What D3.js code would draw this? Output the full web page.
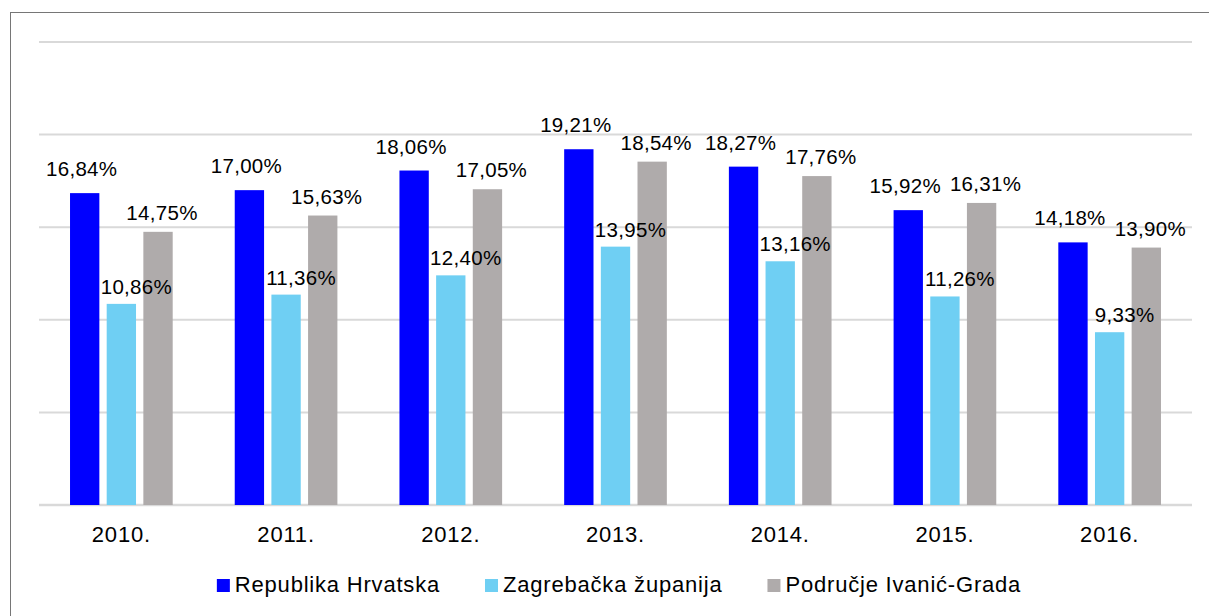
<!DOCTYPE html>
<html>
<head>
<meta charset="utf-8">
<script src="https://cdn.jsdelivr.net/npm/d3@7"></script>
<style>
  body { margin: 0; background: #fff; }
  text { font-family: "Liberation Sans", Arial, sans-serif; fill: #000; }
</style>
</head>
<body>
<div id="chart"></div>
<script>
// data
var years = ["2010.", "2011.", "2012.", "2013.", "2014.", "2015.", "2016."];
var seriesNames = ["Republika Hrvatska", "Zagrebačka županija", "Područje Ivanić-Grada"];
var hrvatska = [16.84, 17.00, 18.06, 19.21, 18.27, 15.92, 14.18];
var zagrebacka = [10.86, 11.36, 12.40, 13.95, 13.16, 11.26, 9.33];
var ivanicGrad = [14.75, 15.63, 17.05, 18.54, 17.76, 16.31, 13.90];
var yTicks = [0, 5, 10, 15, 20, 25];

var colors = ["#0000ff", "#6fcff3", "#afabab"];
var labelShiftX = [-3, 15, 4]; // label nudge per series
var labelShiftY = [17, 10, 12];

var width = 1209, height = 616;
var plot = {left: 39, right: 1192, top: 42, bottom: 505};

var svg = d3.select("#chart").append("svg")
    .attr("width", width)
    .attr("height", height);

// outer frame
svg.append("rect")
    .attr("x", 10.5).attr("y", 12.5)
    .attr("width", 1300).attr("height", 700)
    .attr("fill", "none")
    .attr("stroke", "#767676")
    .attr("stroke-width", 1);

var x0 = d3.scaleBand().domain(years).range([plot.left, plot.right]);
var x1 = d3.scaleBand().domain(seriesNames).range([-55, 55]).paddingInner(0.2).paddingOuter(0.1);
var y = d3.scaleLinear().domain([0, 25]).range([plot.bottom, plot.top]);

var locale = d3.formatLocale({decimal: ",", thousands: ".", grouping: [3], currency: ["", " kn"]});
var fmt = locale.format(".2f");

// gridlines
svg.append("g").selectAll("line")
    .data(yTicks)
    .enter().append("line")
    .attr("x1", plot.left).attr("x2", plot.right)
    .attr("y1", function(d) { return y(d); })
    .attr("y2", function(d) { return y(d); })
    .attr("stroke", "#d9d9d9")
    .attr("stroke-width", function(d) { return d == 0 ? 2.5 : 2; });

var table = [];
years.forEach(function(yr, i) {
    [hrvatska, zagrebacka, ivanicGrad].forEach(function(arr, s) {
        table.push({year: yr, series: seriesNames[s], idx: s, value: arr[i]});
    });
});

// bars
svg.append("g").selectAll("rect")
    .data(table)
    .enter().append("rect")
    .attr("x", function(d) { return x0(d.year) + x0.bandwidth() / 2 + x1(d.series); })
    .attr("y", function(d) { return y(d.value); })
    .attr("width", x1.bandwidth())
    .attr("height", function(d) { return y(0) - y(d.value); })
    .attr("fill", function(d) { return colors[d.idx]; });

// value labels
svg.append("g").selectAll("text")
    .data(table)
    .enter().append("text")
    .attr("x", function(d) { return x0(d.year) + x0.bandwidth() / 2 + x1(d.series) + x1.bandwidth() / 2 + labelShiftX[d.idx]; })
    .attr("y", function(d) { return y(d.value) - labelShiftY[d.idx]; })
    .attr("text-anchor", "middle")
    .style("font-size", "20.5px")
    .style("letter-spacing", "0.3px")
    .text(function(d) { return fmt(d.value) + "%"; });

// x axis labels
var xAxis = d3.axisBottom(x0).tickSize(0).tickPadding(0);
var gx = svg.append("g")
    .attr("transform", "translate(0," + plot.bottom + ")")
    .call(xAxis);
gx.select(".domain").remove();
gx.selectAll("text")
    .attr("dy", null)
    .attr("y", 37)
    .style("font-size", "22px")
    .style("letter-spacing", "0.8px")
    .style("font-family", "'Liberation Sans', Arial, sans-serif")
    .attr("fill", "#000");

// legend
var legend = svg.append("g");
var items = legend.selectAll("g")
    .data(seriesNames)
    .enter().append("g");
items.append("rect")
    .attr("width", 13).attr("height", 13)
    .attr("y", 579)
    .attr("fill", function(d, i) { return colors[i]; });
items.append("text")
    .attr("x", 18)
    .attr("y", 592)
    .style("font-size", "22px")
    .style("letter-spacing", "0.8px")
    .text(function(d) { return d; });

var widths = [];
items.each(function() { widths.push(this.getBBox().width); });
var gap = 45;
var total = d3.sum(widths) + gap * (widths.length - 1);
var xpos = 619 - total / 2;
items.attr("transform", function(d, i) {
    var t = "translate(" + xpos + ",0)";
    xpos += widths[i] + gap;
    return t;
});
</script>
</body>
</html>
